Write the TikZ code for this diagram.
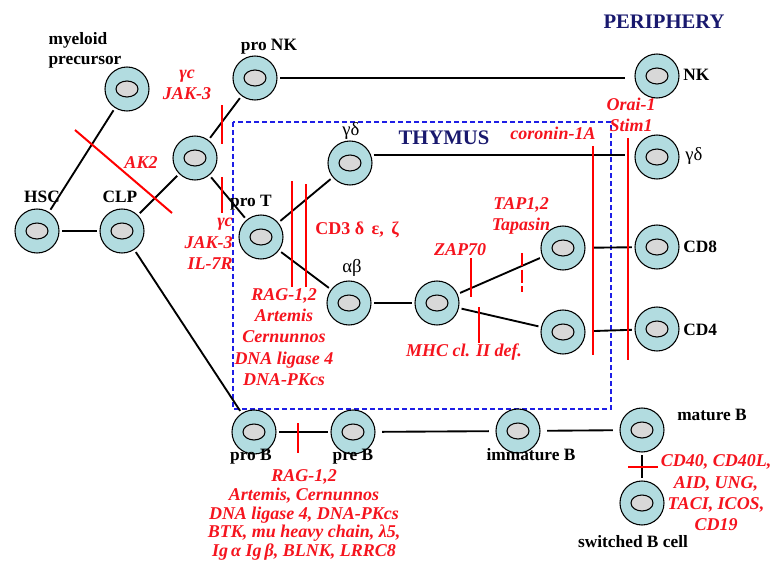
\documentclass[tikz,border=0pt]{standalone}
\usepackage{fontspec}
\setmainfont{Liberation Serif}
\usepackage{xcolor}
\usepackage{tikz}
\usetikzlibrary{positioning}

\definecolor{cellfill}{RGB}{178,220,224}
\definecolor{nucgrey}{RGB}{216,216,216}
\definecolor{genered}{RGB}{245,20,30}
\definecolor{regionblue}{RGB}{25,25,110}
\definecolor{boxblue}{RGB}{30,30,230}

\begin{document}
\begin{tikzpicture}[
    x=0.75pt, y=-0.75pt,
    cell/.style={circle, draw, line width=0.8pt, fill=cellfill, minimum size=33pt,
                 inner sep=0pt, path picture={\draw[line width=0.8pt, fill=nucgrey]
                 (path picture bounding box.center) ellipse (8.25pt and 6pt);}},
    lbl/.style={font=\fontsize{13}{15}\selectfont\bfseries, inner sep=0pt},
    greek/.style={font=\fontsize{14}{16}\selectfont, inner sep=0pt},
    region/.style={font=\fontsize{15.5}{18}\selectfont\bfseries, text=regionblue, inner sep=0pt},
    gene/.style={font=\fontsize{13.5}{16}\selectfont\bfseries\itshape, text=genered,
                 align=center, inner sep=0pt},
    link/.style={line width=1.4pt, shorten <=2pt, shorten >=2pt},
    block/.style={draw=red, line width=1.5pt}
]
\useasboundingbox (0,0) rectangle (771,564);

% === THYMUS BOX ===
\draw[boxblue, line width=0.9pt, dash pattern=on 4pt off 2pt] (233,122) rectangle (611,409);

% === CELLS ===
\node[cell] (hsc)   at (37,231)  {};
\node[cell] (clp)   at (122,231) {};
\node[cell] (myel)  at (127,89)  {};
\node[cell] (lymp)  at (195,158) {};
\node[cell] (pronk) at (255,78)  {};
\node[cell] (prot)  at (261,237) {};
\node[cell] (gdt)   at (350,163) {};
\node[cell] (ab)    at (349,303) {};
\node[cell] (dp)    at (437,303) {};
\node[cell] (sp8)   at (563,248) {};
\node[cell] (sp4)   at (563,332) {};
\node[cell] (nk)    at (657,76)  {};
\node[cell] (gdp)   at (657,157) {};
\node[cell] (cd8)   at (657,247) {};
\node[cell] (cd4)   at (657,329) {};
\node[cell] (prob)  at (254,432) {};
\node[cell] (preb)  at (353,432) {};
\node[cell] (immb)  at (518,431) {};
\node[cell] (matb)  at (642,430) {};
\node[cell] (swb)   at (642,503) {};

% === CELL NAMES ===
\node[lbl, align=left] (myeltxt) at (85,50) {myeloid\\precursor};
\node[lbl] (hsctxt)   at (42,197)  {HSC};
\node[lbl] (clptxt)   at (120,197) {CLP};
\node[lbl] (pronktxt) at (269,47)  {pro NK};
\node[lbl] (prottxt)  at (251,203) {pro T};
\node[greek] (gdttxt) at (351,131) {γδ};
\node[greek] (abtxt)  at (352,268) {αβ};
\node[lbl, anchor=west] (nktxt)  at (683,75)  {NK};
\node[greek, anchor=west] (gdptxt) at (685,156) {γδ};
\node[lbl, anchor=west] (cd8txt) at (683,247) {CD8};
\node[lbl, anchor=west] (cd4txt) at (683,330) {CD4};
\node[lbl] (probtxt)  at (251,457) {pro B};
\node[lbl] (prebtxt)  at (353,457) {pre B};
\node[lbl] (immbtxt)  at (531,455) {immature B};
\node[lbl] (matbtxt)  at (712,415) {mature B};
\node[lbl] (swbtxt)   at (633,542) {switched B cell};

\node[region] (thymus) at (444,138) {THYMUS};
\node[region] (periph) at (664,22)  {PERIPHERY};

% === LINEAGES ===
\draw[link] (hsc) -- (clp);
\draw[link] (hsc) -- (myel);
\draw[link] (clp) -- (lymp);
\draw[link] (lymp) -- (pronk);
\draw[link] (lymp) -- (prot);
\draw[link] (prot) -- (gdt);
\draw[link] (prot) -- (ab);
\draw[link] (ab) -- (dp);
\draw[link] (dp) -- (sp8);
\draw[link] (dp) -- (sp4);
\draw[link] (clp) -- (prob);
\draw[link, shorten >=7pt] (pronk) -- (pronk -| nk.west);
\draw[link, shorten >=7pt] (gdt.21) -- (gdt.21 -| gdp.west);
\draw[link, shorten <=5pt, shorten >=2pt] (sp8) -- (cd8);
\draw[link, shorten <=5pt, shorten >=2pt] (sp4) -- (cd4);
\draw[link] (prob) -- (preb);
\draw[link, shorten <=5pt, shorten >=5pt] (preb) -- (immb);
\draw[link, shorten <=5pt, shorten >=5pt] (immb) -- (matb);
\draw[link] (matb) -- (swb);

% === BLOCKS ===
\draw[block] (75,130) -- (172,213);
\draw[block] (222,105) -- (222,144);
\draw[block] (222,177) -- (222,213);
\draw[block] (292,181) -- (292,287);
\draw[block] (306,184) -- (306,287);
\draw[block] (471,258) -- (471,297);
\draw[block, dash pattern=on 10pt off 2.5pt] (522,253) -- (522,292);
\draw[block] (479,307) -- (479,343);
\draw[block] (593,146) -- (593,355);
\draw[block] (628,138) -- (628,360);
\draw[block] (298,423) -- (298,453);
\draw[block] (628,467) -- (658,467);

% === DEFECTS ===
\node[gene] (gcnk)  at (187,85)  {γc\\JAK-3};
\node[gene] (ak2)   at (141,163) {AK2};
\node[gene, align=right, anchor=east] (gct) at (233,244) {γc\\JAK-3\\IL-7R};
\node[gene, font=\fontsize{13.5}{16}\selectfont\bfseries] (cd3) at (357,230) {CD3 δ\, ε,\, ζ};
\node[gene] (ragt)  at (284,337) {RAG-1,2\\Artemis\\Cernunnos\\DNA ligase 4\\DNA-PKcs};
\node[gene] (zap)   at (460,250) {ZAP70};
\node[gene] (tap)   at (521,216) {TAP1,2\\Tapasin};
\node[gene] (mhc)   at (464,352) {MHC cl. II def.};
\node[gene] (coro)  at (553,133) {coronin-1A};
\node[gene] (orai)  at (631,115) {Orai-1\\Stim1};
\node[gene, font=\fontsize{13.5}{14}\selectfont\bfseries\itshape] (ragb) at (304,515)
    {RAG-1,2\\Artemis, Cernunnos\\DNA ligase 4, DNA-PKcs\\BTK, mu heavy chain, λ5,\\Ig\,α Ig\,β, BLNK, LRRC8};
\node[gene] (cd40)  at (716,493) {CD40, CD40L,\\AID, UNG,\\TACI, ICOS,\\CD19};

\end{tikzpicture}
\end{document}
